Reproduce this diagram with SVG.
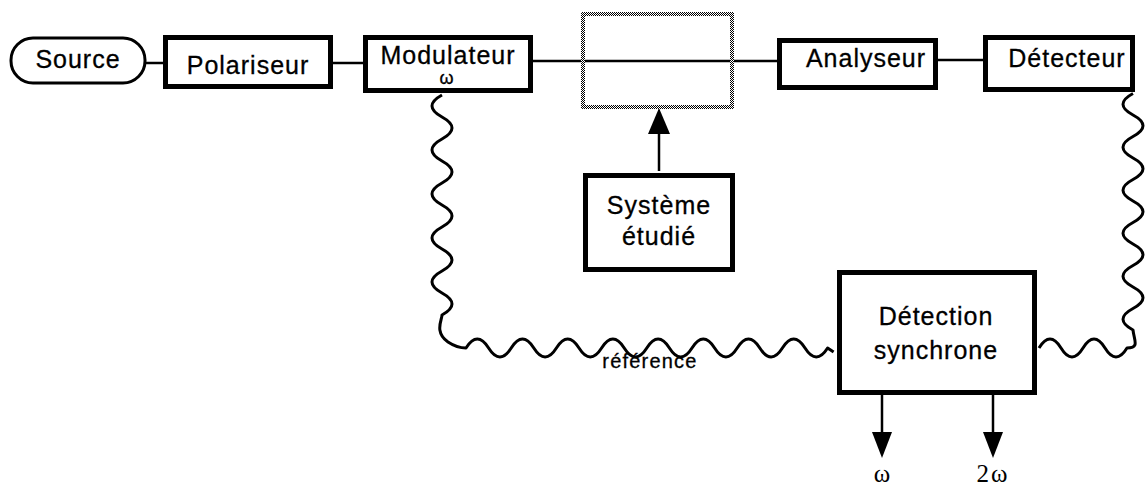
<svg xmlns="http://www.w3.org/2000/svg" width="1146" height="490" viewBox="0 0 1146 490">
<defs>
<pattern id="checker" width="2" height="2" patternUnits="userSpaceOnUse">
<rect width="2" height="2" fill="#fff"/>
<rect width="1" height="1" fill="#000"/>
<rect x="1" y="1" width="1" height="1" fill="#000"/>
</pattern>
<style>
.box{fill:#fff;stroke:#000;stroke-width:5}
.t{font-family:"Liberation Sans",Arial,sans-serif;font-size:25px;letter-spacing:1px;text-anchor:middle;fill:#000;stroke:#000;stroke-width:0.3}
.s{font-family:"Liberation Serif","Times New Roman",serif;font-size:25px;text-anchor:middle;fill:#000}
.ln{stroke:#000;stroke-width:2.5;fill:none}
.wave{stroke:#000;stroke-width:3;fill:none;stroke-linejoin:round}
</style>
</defs>
<rect width="1146" height="490" fill="#fff"/>
<g id="connectors">
<line class="ln" x1="145" y1="63" x2="163" y2="63"/>
<line class="ln" x1="333" y1="63" x2="363" y2="63"/>
<line class="ln" x1="533" y1="61" x2="777" y2="61"/>
<line class="ln" x1="938" y1="60" x2="983" y2="60"/>
<line class="ln" x1="659" y1="171" x2="659" y2="130"/>
<polygon points="659,108 648,134 670,134" fill="#000"/>
<path class="wave" d="M442,95 q-20,11 0,22 t0,22 t0,22 t0,22 t0,22 t0,22 t0,22 t0,22 t0,22 t0,22 C442,320 434,332 448,342 C454,346 460,348 466,348 q11.3,-18 22.6,0 t22.6,0 t22.6,0 t22.6,0 t22.6,0 t22.6,0 t22.6,0 t22.6,0 t22.6,0 t22.6,0 t22.6,0 t22.6,0 t22.6,0 t22.6,0 t22.6,0 t22.6,0 l6,4"/>
<path class="wave" d="M1039,348 q11,-18 22,0 t22,0 t22,0 t22,0 C1140,348 1134,340 1133,330 q-20,-10.75 0,-21.5 t0,-21.5 t0,-21.5 t0,-21.5 t0,-21.5 t0,-21.5 t0,-21.5 t0,-21.5 t0,-21.5 t0,-21.5 t0,-21.5"/>
<line class="ln" x1="882" y1="395" x2="882" y2="434"/>
<polygon points="872,432 892,432 882,458" fill="#000"/>
<line class="ln" x1="993" y1="395" x2="993" y2="434"/>
<polygon points="983,432 1003,432 993,458" fill="#000"/>
</g>
<g id="source">
<rect x="11" y="38" width="134" height="45" rx="22" fill="#fff" stroke="#000" stroke-width="3"/>
<text class="t" x="78" y="68">Source</text>
</g>
<g id="polariseur">
<rect class="box" x="165.5" y="37.5" width="165" height="49"/>
<text class="t" x="248" y="74">Polariseur</text>
</g>
<g id="modulateur">
<rect class="box" x="365.5" y="37.5" width="165" height="53"/>
<text class="t" x="448" y="64">Modulateur</text>
<text class="t" x="447" y="84" style="font-size:18px">ω</text>
</g>
<g id="echantillon">
<rect x="583" y="14" width="149" height="93" fill="none" stroke="url(#checker)" stroke-width="4"/>
</g>
<g id="analyseur">
<rect class="box" x="779.5" y="40.5" width="156" height="47"/>
<text class="t" x="866" y="67">Analyseur</text>
</g>
<g id="detecteur">
<rect class="box" x="985.5" y="37.5" width="147" height="52"/>
<text class="t" x="1067" y="67">Détecteur</text>
</g>
<g id="systeme">
<rect class="box" x="585.5" y="175.5" width="147" height="94"/>
<text class="t" x="659" y="214">Système</text>
<text class="t" x="659" y="245">étudié</text>
</g>
<g id="detection">
<rect class="box" x="839.5" y="272.5" width="195" height="120"/>
<text class="t" x="936" y="325">Détection</text>
<text class="t" x="936" y="359">synchrone</text>
</g>
<g id="labels">
<text class="t" x="650" y="368" style="font-size:20px;letter-spacing:1.2px">référence</text>
<text class="s" x="882" y="482">ω</text>
<text class="s" x="993" y="482" style="letter-spacing:2px">2ω</text>
</g>
</svg>
